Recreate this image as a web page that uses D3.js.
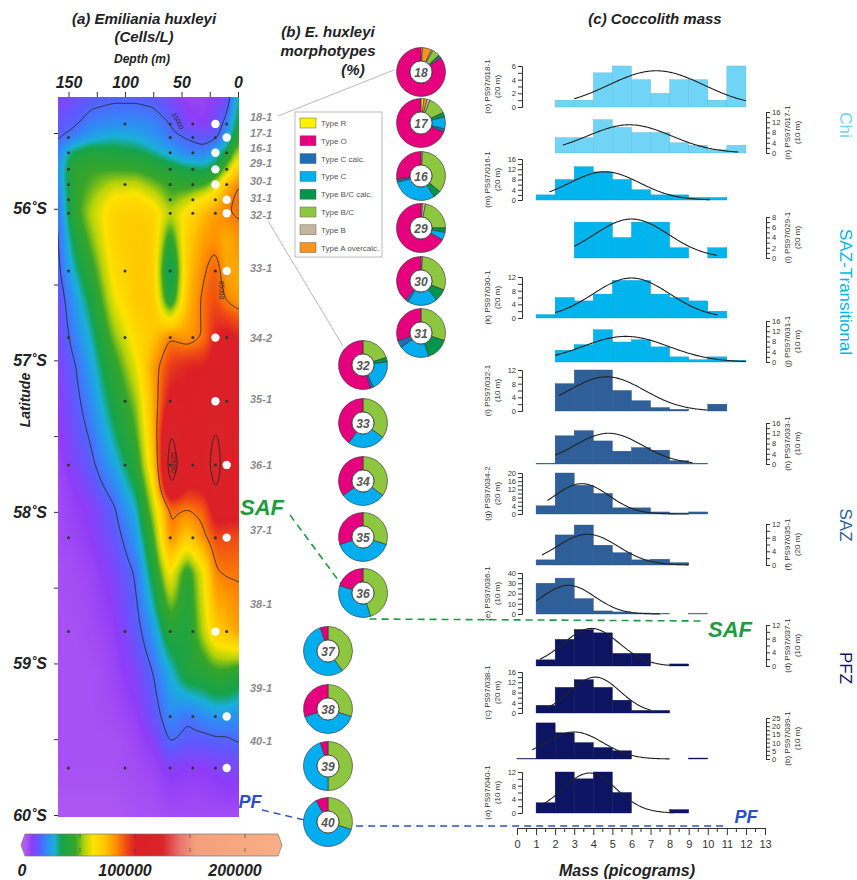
<!DOCTYPE html>
<html><head><meta charset="utf-8">
<script src="https://cdn.jsdelivr.net/npm/d3@7"></script>
<style>body{margin:0;background:#fff;} svg{display:block;font-family:"Liberation Sans",Arial,sans-serif;}</style>
</head><body><svg id="c" width="857" height="880"></svg>
<script>
// ================= DATA =================
// Panel (a): E. huxleyi abundance field (thousand cells/L) read at latitude rows x depth columns
const fieldDepths = [0,10,20,30,45,60,75,90,110,130,145,160];
const fieldLats = [55.25,55.44,55.53,55.63,55.74,55.84,55.94,56.03,56.2,56.41,56.6,56.85,57.04,57.27,57.5,57.69,57.83,57.97,58.17,58.4,58.79,59.06,59.35,59.5,59.69,60.0];
const fieldValues = [
 [30, 8, 6, 4, 4, 8,12,13,13,12, 9, 7],
 [35,18,10, 6, 8,15,19,20,20,18,14,11],
 [42,22,13,12,15,17,22,26,28,24,18,14],
 [55,35,25,18,18,24,30,34,36,38,34,18],
 [72,52,35,32,34,38,42,45,46,46,42,20],
 [85,75,55,45,42,45,50,56,55,48,42,18],
 [88,82,72,65,55,48,60,66,64,52,42,16],
 [86,85,80,75,65,55,68,70,68,55,42,14],
 [82,76,82,80,70,40,70,72,68,50,35,13],
 [78,78,90,84,72,25,70,72,65,42,28,12],
 [80,84,92,88,74,35,72,72,60,35,22,9],
 [100,104,100,86,80,85,72,66,50,28,18,8],
 [102,106,106,100,100,95,80,60,42,24,14,7],
 [100,106,110,105,100,104,78,52,36,20,12,6],
 [104,110,123,108,104,123,75,46,30,16,10,5],
 [105,108,130,110,108,130,70,40,24,13,8,4],
 [105,108,123,104,100,122,62,34,19,10,6,3],
 [105,108,108,90,86,88,55,28,14,7,5,3],
 [92,92,92,83,70,84,45,22,11,6,4,3],
 [86,86,84,62,40,64,36,16,8,4,3,2],
 [80,74,70,56,36,40,22,12,5,3,2,2],
 [40,44,44,40,38,26,15,8,4,2,2,2],
 [20,22,22,20,16,20,11,5,3,2,2,2],
 [16,14,14,13,13,16,7,4,2,2,2,2],
 [8,8,7,6,6,7,4,3,2,2,2,2],
 [3,3,3,3,3,3,2,2,1,1,1,1]
];
const contourLevels = [15000, 85000, 120000];
const colorStopValues = [0,6000,13000,20000,27000,33000,46000,54000,62000,72000,82000,92000,100000,125000,140000,155000,230000];
const colorStopColors = ["#b35cf2","#8f3cf7","#5a5cff","#2f8cf5","#19b0d8","#16a34a","#37a52a","#b5d20a","#fde400","#ffc800","#ff9200","#f04a14","#dc1f26","#d9242a","#e8706a","#f4a07c","#f8ae84"];
const colorbarTicks = [50000,100000,150000,200000];
const colorbarLabels = [0,100000,200000];
const depthTicks = [0,25,50,75,100,125,150];
const latTicks = [55.5,56,56.5,57,57.5,58,58.5,59,59.5,60];

// Stations
const stationNames = ["18-1","17-1","16-1","29-1","30-1","31-1","32-1","33-1","34-2","35-1","36-1","37-1","38-1","39-1","40-1"];
const stationLats = [55.44,55.53,55.63,55.74,55.84,55.94,56.03,56.41,56.85,57.27,57.69,58.17,58.79,59.35,59.69];
const bottleDepths = [[100,60,40,10],[150,60,40,20],[150,60,40,10],[150,60,40,10],[150,100,60,40,10],[150,60,40,20],[150,60,40,20],[150,100,60,20],[150,100,60,40,10],[100,60,10],[150,100,60,40,20],[150,60,40,20],[150,100,60,40,10],[60,40,20],[150,100,60,40,20]];
const sampleDepths = [20,10,20,20,20,10,10,10,20,20,10,10,20,10,10];

// Panel (b): morphotype percentages, order = legend order
const morphTypes = ["Type R","Type O","Type C calc.","Type C","Type B/C calc.","Type B/C","Type B","Type A overcalc."];
const morphColors = ["#fff200","#e6007e","#1f6db5","#00adef","#00954a","#8dc63f","#c4b69c","#f7941d"];
const pieOrder = [0,7,6,5,4,3,2,1];
const donutLabels = ["18","17","16","29","30","31","32","33","34","35","36","37","38","39","40"];
const morphPercent = [
 [1,85,0,1,1,5,1,6],
 [2,69,2,8,3,12,2,2],
 [0,27,2,30,5,35,1,0],
 [0,67,0,5,3,22,2,1],
 [0,39,2,20,8,30,1,0],
 [0,30,5,20,15,30,0,0],
 [0,55,2,20,3,20,0,0],
 [0,40,0,25,0,35,0,0],
 [0,35,0,30,0,35,0,0],
 [0,30,0,40,0,30,0,0],
 [0,20,0,35,0,45,0,0],
 [0,5,0,55,0,40,0,0],
 [0,30,0,40,0,30,0,0],
 [0,5,0,45,0,50,0,0],
 [0,8,0,62,0,30,0,0]
];

// Panel (c): coccolith mass histograms (bins of 1 pg starting at 0)
const histIds = ["o","n","m","l","k","j","i","h","g","f","e","d","c","b","a"];
const histStations = ["018-1","017-1","016-1","029-1","030-1","031-1","032-1","033-1","034-2","035-1","036-1","037-1","038-1","039-1","040-1"];
const histSampleDepth = ["20 m","10 m","20 m","20 m","20 m","10 m","10 m","10 m","20 m","20 m","10 m","10 m","20 m","10 m","10 m"];
const histZone = ["Chi","Chi","SAZT","SAZT","SAZT","SAZT","SAZ","SAZ","SAZ","SAZ","SAZ","PFZ","PFZ","PFZ","PFZ"];
const histAxisMax = [6,16,16,8,12,16,12,16,20,12,40,12,16,25,12];
const histAxisStep = [2,4,4,2,4,4,4,4,4,4,10,4,4,5,4];
const histMinorStep = [1,2,2,1,2,2,2,2,2,2,5,2,2,2.5,2];
const histCounts = [
 [0,0,1,1,5,6,4,2,4,4,1,6],
 [0,0,6,6,13,10,8,8,4,3,1.3,3],
 [0,2,8,13,11,8,4,2,2,1,1],
 [0,0,0,7,7,4,7,7,2,0,2],
 [0,1,6,5,7,11,11,7,6,5,2],
 [0,0,4.6,6.8,12.6,7.8,8.7,5.9,2,0.9,2,0.7],
 [0,0,8,12,12,6,3,1,0.5,0,2],
 [0,0.3,11,13,9,5,6.4,5.4,1.3,0.3],
 [0,4,20,14,10,3,3,1,0.5,1],
 [0,1.5,8.8,11.7,5.8,3.6,1.5,1.7,0.7],
 [0,30,35,15,3,2,1,0.5,0,0.5],
 [0,1.8,7.8,10.7,9.7,3.7,3.7,0,0.6],
 [0,3,10,13,10,5,1,1],
 [0.3,22,16,10,7,5,0,0,0,0.6],
 [0,3,12,10,12,6,0,0,1]
];
// normal fits: mean, sd, peak height, x-range
const fitMean = [7.3,5.9,4.6,6.0,6.0,5.7,4.7,4.8,3.4,3.7,2.7,3.9,4.1,3.0,3.8];
const fitSd   = [2.5,2.2,1.84,1.94,2.0,2.25,1.98,1.78,1.42,1.6,1.37,1.46,1.3,1.5,1.4];
const fitPeak = [5.3,11,11,7.6,11.7,10,10,12,14.8,9,28,11,14,16.5,11.7];
const fitFrom = [3,2.4,1.7,3,2,2,2.2,2,1.6,1.3,1,1.2,1.5,0.8,1.4];
const fitTo   = [12,11.6,10.1,10.5,10.5,12,10,9.2,9,9,7.5,8,7,8,8.2];
const massTicks = d3.range(0,14);

// ================= LAYOUT / STYLE =================
const F = '"Liberation Sans", Arial, sans-serif';
const zoneColor = {Chi:"#6fd4f5", SAZT:"#00b5ee", SAZ:"#2e5f98", PFZ:"#0d1563"};
const svg = d3.select("#c");
function T(x,y,s,o={}){
  const t = svg.append("text").attr("x",x).attr("y",y).text(s)
    .attr("font-size",o.size||12).attr("font-weight",o.w||"bold")
    .attr("font-style",o.it===false?"normal":"italic")
    .attr("text-anchor",o.a||"middle").attr("fill",o.c||"#222");
  if(o.rot!=null) t.attr("transform",`rotate(${o.rot},${x},${y})`);
  return t;
}

// ---------- Panel (a) ----------
const PX0=58, PX1=239, PY0=97, PY1=817;
const xDepth = d3.scaleLinear().domain([0,150]).range([238,68.5]);
const yLat = d3.scaleLinear().domain([55.5,60]).range([133,815]);
const color = d3.scaleLinear().domain(colorStopValues).range(colorStopColors).clamp(true);

function fieldAt(dep, lat){
  dep = Math.max(fieldDepths[0], Math.min(fieldDepths[fieldDepths.length-1], dep));
  lat = Math.max(fieldLats[0], Math.min(fieldLats[fieldLats.length-1], lat));
  let i = Math.max(0, Math.min(fieldLats.length-2, d3.bisectRight(fieldLats, lat)-1));
  let j = Math.max(0, Math.min(fieldDepths.length-2, d3.bisectRight(fieldDepths, dep)-1));
  const ty=(lat-fieldLats[i])/(fieldLats[i+1]-fieldLats[i]);
  const tx=(dep-fieldDepths[j])/(fieldDepths[j+1]-fieldDepths[j]);
  const a=fieldValues[i][j], b=fieldValues[i][j+1], c=fieldValues[i+1][j], d=fieldValues[i+1][j+1];
  return ((1-ty)*((1-tx)*a+tx*b)+ty*((1-tx)*c+tx*d))*1000;
}
const pad=8, gx0=PX0-pad, gy0=PY0-pad, GW=(PX1-PX0)+2*pad, GH=(PY1-PY0)+2*pad;
let vals = new Float64Array(GW*GH);
for(let r=0;r<GH;r++) for(let c=0;c<GW;c++)
  vals[r*GW+c] = fieldAt(xDepth.invert(gx0+c+0.5), yLat.invert(gy0+r+0.5));
function blur(a,W,H,rx,ry){
  const o=new Float64Array(W*H), o2=new Float64Array(W*H);
  for(let r=0;r<H;r++){for(let c=0;c<W;c++){let s=0,n=0;for(let k=-rx;k<=rx;k++){const cc=Math.max(0,Math.min(W-1,c+k));s+=a[r*W+cc];n++;}o[r*W+c]=s/n;}}
  for(let r=0;r<H;r++){for(let c=0;c<W;c++){let s=0,n=0;for(let k=-ry;k<=ry;k++){const rr=Math.max(0,Math.min(H-1,r+k));s+=o[rr*W+c];n++;}o2[r*W+c]=s/n;}}
  return o2;
}
vals = blur(vals,GW,GH,3,6); vals = blur(vals,GW,GH,2,4);

const cv=document.createElement("canvas"); const IW=PX1-PX0, IH=PY1-PY0; cv.width=IW; cv.height=IH;
const ctx=cv.getContext("2d"); const img=ctx.createImageData(IW,IH);
for(let r=0;r<IH;r++) for(let c=0;c<IW;c++){
  const v=vals[(r+pad)*GW+(c+pad)]; const col=d3.rgb(color(v)); const k=(r*IW+c)*4;
  img.data[k]=col.r; img.data[k+1]=col.g; img.data[k+2]=col.b; img.data[k+3]=255;
}
ctx.putImageData(img,0,0);
const defs=svg.append("defs");
defs.append("clipPath").attr("id","plotClip").append("rect").attr("x",PX0).attr("y",PY0).attr("width",IW).attr("height",IH);
svg.append("image").attr("x",PX0).attr("y",PY0).attr("width",IW).attr("height",IH).attr("href",cv.toDataURL());
const contours=d3.contours().size([GW,GH]).thresholds(contourLevels)(vals);
const cpath=d3.geoPath(d3.geoIdentity().translate([gx0,gy0]));
svg.append("g").attr("clip-path","url(#plotClip)").selectAll("path").data(contours).join("path")
  .attr("d",cpath).attr("fill","none").attr("stroke","#222").attr("stroke-width",0.9);
// contour labels
[[15000,176,122,62],[85000,219,290,90],[120000,171,462,90]].forEach(([v,x,y,rot])=>{
  svg.append("text").attr("x",x).attr("y",y).attr("transform",`rotate(${rot},${x},${y})`).attr("text-anchor","middle")
   .attr("font-size",6.5).attr("fill","#222").text(v);
});
// stations dots
stationLats.forEach((lat,i)=>{
  svg.append("g").selectAll("circle").data(bottleDepths[i]).join("circle")
    .attr("cx",d=>xDepth(d)).attr("cy",yLat(lat)).attr("r",1.5).attr("fill","#333");
  svg.append("circle").attr("cx",xDepth(sampleDepths[i])).attr("cy",yLat(lat)).attr("r",4.2).attr("fill","#fff");
});
// station labels
const labelY = [117,133,148,163,181,198,215,268,338,399,465,530,604,688,741];
stationNames.forEach((s,i)=>T(250,labelY[i]+4,s,{size:11,a:"start",c:"#8a8a8a"}));

// axes
const gTop=svg.append("g").attr("transform",`translate(0,${PY0})`)
  .call(d3.axisTop(xDepth).tickValues(depthTicks).tickSize(5).tickPadding(4).tickFormat(d=>d%50===0?d:""));
gTop.select(".domain").remove();
gTop.selectAll("line").attr("stroke","#333");
gTop.selectAll("text").attr("font-size",16).attr("font-weight","bold").attr("font-style","italic").attr("fill","#222").attr("font-family",F);
const gLeft=svg.append("g").attr("transform",`translate(${PX0},0)`)
  .call(d3.axisLeft(yLat).tickValues(latTicks).tickSize(4).tickPadding(7).tickFormat(d=>Number.isInteger(d)?d+"˚S":""));
gLeft.select(".domain").remove();
gLeft.selectAll("line").attr("stroke","#333");
gLeft.selectAll("text").attr("font-size",16).attr("font-weight","bold").attr("font-style","italic").attr("fill","#222").attr("font-family",F);

T(144,24,"(a) Emiliania huxleyi",{size:15});
T(144,42,"(Cells/L)",{size:15});
T(142,63,"Depth (m)",{size:12});
T(30,400,"Latitude",{size:14,rot:-90});

// colorbar
const cbX=d3.scaleLinear().domain([0,230000]).range([25,278]);
const grad=defs.append("linearGradient").attr("id","cbg").attr("gradientUnits","userSpaceOnUse").attr("x1",cbX(0)).attr("x2",cbX(230000)).attr("y1",0).attr("y2",0);
colorStopValues.forEach((v,i)=>grad.append("stop").attr("offset",(cbX(v)-cbX(0))/(cbX(230000)-cbX(0))).attr("stop-color",colorStopColors[i]));
const cbY0=834, cbY1=856, cbM=(cbY0+cbY1)/2;
svg.append("path").attr("d",`M${cbX(0)-4},${cbM} L${cbX(0)},${cbY0} L${cbX(230000)},${cbY0} L${cbX(230000)+4},${cbM} L${cbX(230000)},${cbY1} L${cbX(0)},${cbY1} Z`)
  .attr("fill","url(#cbg)").attr("stroke","#777").attr("stroke-width",0.7);
svg.append("g").selectAll("line").data(colorbarTicks).join("line")
  .attr("x1",d=>cbX(d)).attr("x2",d=>cbX(d)).attr("y1",cbY0).attr("y2",cbY1).attr("stroke","#444").attr("stroke-width",0.6).attr("stroke-dasharray","4,10");
colorbarLabels.forEach(v=>T(v===0?cbX(v)-3:cbX(v)-10,876,v,{size:16}));

// fronts (drawn beneath the donuts)
svg.append("path").attr("d","M290,515 L367,619 L702,621").attr("fill","none").attr("stroke","#1e9a40").attr("stroke-width",1.6).attr("stroke-dasharray","7,5");
T(262,515,"SAF",{size:22,c:"#1e9a40"});
T(730,637,"SAF",{size:22,c:"#1e9a40"});
svg.append("path").attr("d","M262,810 L330,826 L728,826").attr("fill","none").attr("stroke","#2a4fc8").attr("stroke-width",1.4).attr("stroke-dasharray","7,5");
T(250,808,"PF",{size:18,c:"#2a4fc8"});
T(746,823,"PF",{size:18,c:"#2a4fc8"});

// ---------- Panel (b) ----------
T(328,37,"(b) E. huxleyi",{size:15});
T(328,56,"morphotypes",{size:15});
T(353,75,"(%)",{size:15});
// connector lines
svg.append("line").attr("x1",278).attr("y1",116).attr("x2",394).attr("y2",70).attr("stroke","#bbb").attr("stroke-width",1);
svg.append("line").attr("x1",268).attr("y1",221).attr("x2",343).attr("y2",346).attr("stroke","#bbb").attr("stroke-width",1);
// legend
svg.append("rect").attr("x",295).attr("y",112).attr("width",87).attr("height",145).attr("fill","#fff").attr("stroke","#aaa").attr("stroke-width",0.8);
morphTypes.forEach((m,i)=>{
  const y=118+i*17.8;
  svg.append("rect").attr("x",300).attr("y",y).attr("width",16).attr("height",10).attr("fill",morphColors[i]).attr("stroke","#666").attr("stroke-width",0.5);
  T(321,y+8,m,{size:8,w:"normal",it:false,a:"start",c:"#555"});
});

const donutCenters=[[421,72],[421,123],[421,176],[421,228],[421,281],[421,333],[363,365],[363,423],[363,481],[363,537],[363,593],[328,651],[328,709],[328,766],[328,822]];
const arc=d3.arc().innerRadius(11).outerRadius(24.5);
const pie=d3.pie().sort(null).value(d=>d.v);
morphPercent.forEach((p,i)=>{
  const [cx,cy]=donutCenters[i];
  const dat=pieOrder.map(k=>({k,v:p[k]})).filter(d=>d.v>0);
  const g=svg.append("g").attr("transform",`translate(${cx},${cy})`);
  g.selectAll("path").data(pie(dat)).join("path").attr("d",arc).attr("fill",d=>morphColors[d.data.k]).attr("stroke","#333").attr("stroke-width",0.6);
  g.append("circle").attr("r",11).attr("fill","#fff").attr("stroke","#333").attr("stroke-width",0.8);
  g.append("text").attr("y",4.5).attr("text-anchor","middle").attr("font-size",12).attr("font-weight","bold").attr("font-style","italic").attr("fill","#555").text(donutLabels[i]);
});

// ---------- Panel (c) ----------
T(655,24,"(c) Coccolith mass",{size:15});
const xMass=d3.scaleLinear().domain([0,13]).range([517,765]);
const baselines=[107,153,200,258,318,362,411,464,514,565,614,666,713,759,813];
const AXLEN=41;
histIds.forEach((id,i)=>{
  const base=baselines[i], mx=histAxisMax[i];
  const y=d3.scaleLinear().domain([0,mx]).range([base,base-AXLEN]);
  const col=zoneColor[histZone[i]];
  const g=svg.append("g");
  g.selectAll("rect").data(histCounts[i].map((v,b)=>({b,v})).filter(d=>d.v>0)).join("rect")
    .attr("x",d=>xMass(d.b)).attr("width",xMass(1)-xMass(0)).attr("y",d=>y(d.v)).attr("height",d=>base-y(d.v))
    .attr("fill",col).attr("stroke",d3.color(col).darker(0.4)).attr("stroke-width",0.4);
  const xs=d3.range(fitFrom[i],fitTo[i]+0.001,0.05);
  g.append("path").attr("d",d3.line().x(d=>xMass(d)).y(d=>y(fitPeak[i]*Math.exp(-((d-fitMean[i])**2)/(2*fitSd[i]**2)))).curve(d3.curveBasis)(xs))
    .attr("fill","none").attr("stroke","#222").attr("stroke-width",1.1);
  const left = i%2===0;
  const ax = left? d3.axisLeft(y) : d3.axisRight(y);
  const minor=d3.range(0,mx+0.001,histMinorStep[i]);
  const gA=svg.append("g").attr("transform",`translate(${left?522:766},0)`)
    .call(ax.tickValues(minor).tickSize(4).tickPadding(2).tickFormat(d=>(Math.abs(d/histAxisStep[i]-Math.round(d/histAxisStep[i]))<1e-6)?d:""));
  gA.select(".domain").attr("stroke","#333");
  gA.selectAll("line").attr("stroke","#333");
  gA.selectAll("text").attr("font-size",7.5).attr("fill","#333").attr("font-family",F);
  const cy=base-AXLEN/2;
  const tx= left?490:790;
  T(tx,cy,`(${id}) PS97/${histStations[i]}`,{size:8,w:"normal",it:false,rot:-90,c:"#333"});
  T(tx+10,cy,`(${histSampleDepth[i]})`,{size:8,w:"normal",it:false,rot:-90,c:"#333"});
});
const gx=svg.append("g").attr("transform","translate(0,828)")
  .call(d3.axisBottom(xMass).tickValues(massTicks).tickSize(7).tickPadding(5));
gx.select(".domain").attr("stroke","#333");
gx.selectAll("line").attr("stroke","#333");
gx.selectAll("text").attr("font-size",11).attr("fill","#333").attr("font-family",F);
svg.append("g").selectAll("line").data(d3.range(0.5,13,1)).join("line")
  .attr("x1",d=>xMass(d)).attr("x2",d=>xMass(d)).attr("y1",828).attr("y2",832).attr("stroke","#333");
T(627,876,"Mass (picograms)",{size:16});

// zone labels
[["Chi",125,"#6fd4f5"],["SAZ-Transitional",292,"#00b5ee"],["SAZ",525,"#2e5f98"],["PFZ",668,"#0d1563"]].forEach(([s,y,c])=>{
  T(840,y,s,{size:17,w:"normal",it:false,rot:90,c});
});
</script></body></html>
